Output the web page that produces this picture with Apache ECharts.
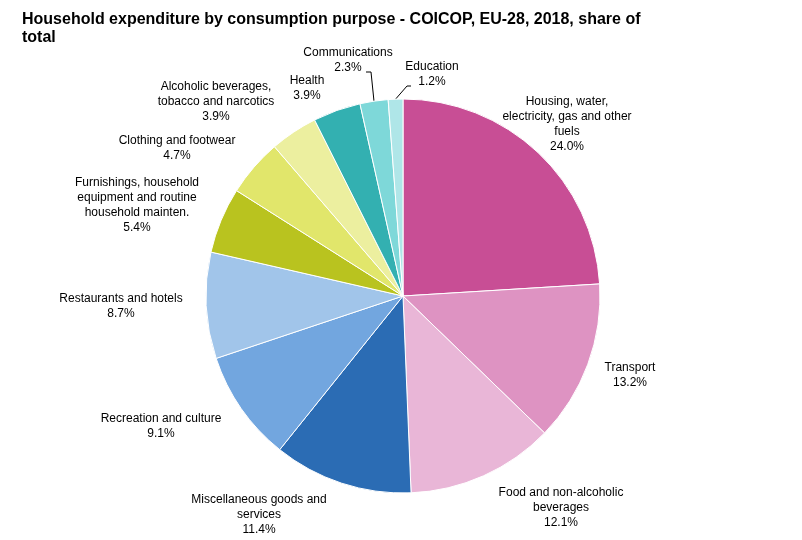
<!DOCTYPE html>
<html><head><meta charset="utf-8">
<script src="https://cdn.jsdelivr.net/npm/echarts@6/dist/echarts.min.js"></script>
<style>html,body{margin:0;padding:0;background:#fff}#c{width:802px;height:540px}</style>
</head><body><div id="c"></div>
<script>
const categories = [
  "Housing, water,\nelectricity, gas and other\nfuels",
  "Transport",
  "Food and non-alcoholic\nbeverages",
  "Miscellaneous goods and\nservices",
  "Recreation and culture",
  "Restaurants and hotels",
  "Furnishings, household\nequipment and routine\nhousehold mainten.",
  "Clothing and footwear",
  "Alcoholic beverages,\ntobacco and narcotics",
  "Health",
  "Communications",
  "Education"
];
const values = [24.0, 13.2, 12.1, 11.4, 9.1, 8.7, 5.4, 4.7, 3.9, 3.9, 2.3, 1.2];
const colors = ["#c84e95","#de93c2","#e9b6d7","#2b6cb4","#72a6df","#a1c5ea","#b9c31f","#e1e66b","#ecef9f","#33b0b1","#7ed8d9","#afe6e8"];
// label anchor positions (layout only)
const labelPos = [[567,124],[630,375],[561,508],[259,515],[161,426],[121,306],[137,205],[177,148],[216,102],[307,88],[348,60],[432,74]];
const leader = {10: [[371,72],[366,72]], 11: [[407,86],[411,86]]};

const chart = echarts.init(document.getElementById('c'), null, {renderer:'canvas'});
chart.setOption({
  animation: false,
  title: {
    text: "Household expenditure by consumption purpose - COICOP, EU-28, 2018, share of\ntotal",
    left: 22, top: 11, padding: 0,
    textStyle: {fontFamily: "Liberation Sans, Arial", fontWeight: "bold", fontSize: 16, lineHeight: 18, color: "#000"}
  },
  series: [{
    type: 'pie',
    center: [403, 296],
    radius: [0, 197],
    startAngle: 90,
    clockwise: true,
    itemStyle: {borderColor: '#fff', borderWidth: 1},
    emphasis: {disabled: true},
    label: {
      show: true,
      position: 'outside',
      formatter: p => p.name + "\n" + p.value.toFixed(1) + "%",
      fontFamily: "Liberation Sans, Arial",
      fontSize: 12,
      lineHeight: 15,
      color: "#000",
      align: 'center'
    },
    labelLine: {show: false, lineStyle: {color: '#000', width: 1}},
    labelLayout: function (params) {
      const i = params.dataIndex;
      const p = labelPos[i];
      const out = {x: p[0], y: p[1], align: 'center', verticalAlign: 'middle'};
      if (leader[i] && params.labelLinePoints) {
        const s = params.labelLinePoints[0];
        out.labelLinePoints = [s, leader[i][0], leader[i][1]];
      }
      return out;
    },
    data: categories.map((n, i) => ({
      name: n, value: values[i],
      itemStyle: {color: colors[i]},
      labelLine: {show: !!leader[i]}
    }))
  }]
});
</script></body></html>
